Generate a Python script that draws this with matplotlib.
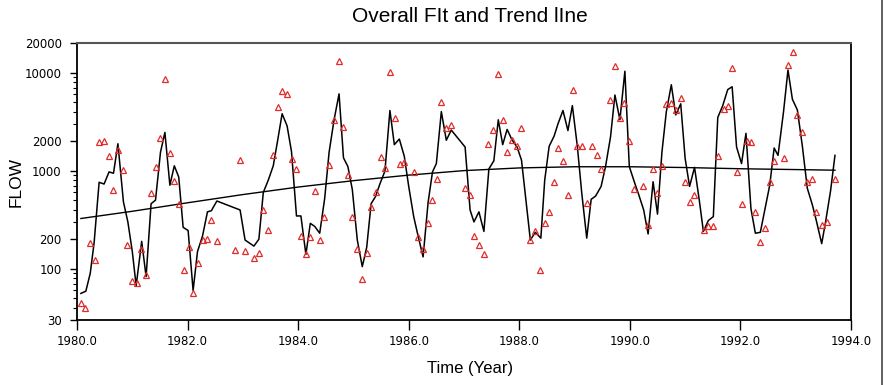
import matplotlib
matplotlib.use('Agg')
import matplotlib.pyplot as plt
from matplotlib.lines import Line2D
from matplotlib.ticker import FixedLocator, NullFormatter

# fitted model (time, flow)
fit_t = [1980.07, 1980.16, 1980.24, 1980.31, 1980.40, 1980.49, 1980.58, 1980.66, 1980.74, 1980.84,
         1980.92, 1981.00, 1981.07, 1981.17, 1981.25, 1981.34, 1981.42, 1981.51, 1981.59, 1981.68,
         1981.76, 1981.84, 1981.92, 1982.01, 1982.10, 1982.18, 1982.27, 1982.36, 1982.43, 1982.53,
         1982.95, 1983.04, 1983.20, 1983.29, 1983.37, 1983.46, 1983.55, 1983.63, 1983.71, 1983.80,
         1983.88, 1983.97, 1984.05, 1984.14, 1984.22, 1984.30, 1984.39, 1984.48, 1984.56, 1984.65,
         1984.74, 1984.82, 1984.90, 1984.98, 1985.07, 1985.16, 1985.24, 1985.32, 1985.40, 1985.48,
         1985.57, 1985.66, 1985.74, 1985.83, 1985.92, 1986.00, 1986.09, 1986.17, 1986.26, 1986.35,
         1986.43, 1986.50, 1986.59, 1986.68, 1986.77, 1987.02, 1987.11, 1987.18, 1987.27, 1987.36,
         1987.45, 1987.54, 1987.62, 1987.70, 1987.78, 1987.87, 1987.96, 1988.04, 1988.20, 1988.29,
         1988.39, 1988.46, 1988.54, 1988.63, 1988.70, 1988.79, 1988.88, 1988.96, 1989.05, 1989.13,
         1989.22, 1989.30, 1989.38, 1989.48, 1989.56, 1989.65, 1989.73, 1989.82, 1989.91, 1989.99,
         1990.08, 1990.16, 1990.25, 1990.33, 1990.42, 1990.50, 1990.58, 1990.66, 1990.75, 1990.83,
         1990.92, 1991.00, 1991.08, 1991.17, 1991.26, 1991.33, 1991.42, 1991.51, 1991.59, 1991.68,
         1991.77, 1991.85, 1991.93, 1992.02, 1992.10, 1992.19, 1992.27, 1992.36, 1992.44, 1992.53,
         1992.61, 1992.68, 1992.78, 1992.86, 1992.94, 1993.03, 1993.12, 1993.21, 1993.30, 1993.37,
         1993.47, 1993.54, 1993.63, 1993.71]
fit_v = [56, 59, 90, 185, 760, 730, 970, 940, 1880, 480,
         300, 150, 67, 190, 83, 460, 500, 1540, 2450, 710,
         1120, 860, 264, 245, 60, 150, 215, 380, 390, 490,
         397, 196, 170, 200, 600, 800, 1120, 2040, 3800, 2860,
         1560, 345, 345, 140, 290, 270, 230, 520, 1540, 3300,
         6060, 1350, 1100, 640, 196, 105, 165, 460, 545, 735,
         990, 4100, 1840, 2100, 1400, 690, 340, 215, 132, 470,
         970, 1180, 4000, 2040, 2590, 1740, 397, 300, 380, 240,
         1040, 1260, 3300, 1840, 2630, 2050, 1740, 1280, 196, 235,
         205, 800, 1770, 2250, 3000, 4100, 2560, 4600, 1770, 590,
         205, 510, 550, 690, 1100, 2200, 5900, 3300, 10300, 1100,
         770, 570, 397, 226, 770, 360, 1540, 4000, 7500, 3700,
         4800, 1330, 690, 1080, 480, 240, 310, 340, 3480, 4600,
         6700, 7160, 1740, 1180, 2400, 410, 230, 235, 397, 710,
         1700, 1430, 4000, 10600, 5340, 4150, 1780, 660, 450, 314,
         180, 300, 620, 1430]

# observed flows
obs_t = [1980.07, 1980.15, 1980.24, 1980.33, 1980.40, 1980.49, 1980.58, 1980.66, 1980.75, 1980.83,
         1980.91, 1981.00, 1981.08, 1981.16, 1981.25, 1981.34, 1981.42, 1981.51, 1981.59, 1981.68,
         1981.76, 1981.84, 1981.93, 1982.02, 1982.10, 1982.19, 1982.28, 1982.36, 1982.43, 1982.53,
         1982.86, 1982.95, 1983.04, 1983.20, 1983.29, 1983.37, 1983.46, 1983.54, 1983.63, 1983.71,
         1983.80, 1983.88, 1983.97, 1984.05, 1984.14, 1984.22, 1984.30, 1984.39, 1984.47, 1984.56,
         1984.65, 1984.73, 1984.82, 1984.91, 1984.98, 1985.07, 1985.16, 1985.24, 1985.32, 1985.41,
         1985.50, 1985.58, 1985.67, 1985.75, 1985.84, 1985.91, 1986.09, 1986.17, 1986.26, 1986.34,
         1986.42, 1986.51, 1986.59, 1986.68, 1986.77, 1987.02, 1987.11, 1987.18, 1987.27, 1987.36,
         1987.44, 1987.53, 1987.62, 1987.71, 1987.78, 1987.87, 1987.95, 1988.04, 1988.20, 1988.29,
         1988.38, 1988.46, 1988.54, 1988.62, 1988.70, 1988.79, 1988.88, 1988.97, 1989.05, 1989.13,
         1989.22, 1989.31, 1989.40, 1989.47, 1989.64, 1989.73, 1989.82, 1989.90, 1989.98, 1990.08,
         1990.24, 1990.33, 1990.41, 1990.49, 1990.58, 1990.66, 1990.75, 1990.83, 1990.92, 1990.99,
         1991.08, 1991.16, 1991.34, 1991.42, 1991.51, 1991.60, 1991.70, 1991.78, 1991.85, 1991.94,
         1992.02, 1992.11, 1992.19, 1992.27, 1992.36, 1992.44, 1992.53, 1992.61, 1992.78, 1992.86,
         1992.95, 1993.02, 1993.12, 1993.21, 1993.30, 1993.37, 1993.47, 1993.56, 1993.71]
obs_v = [45, 40, 183, 123, 1950, 2000, 1400, 640, 1620, 1015,
         175, 75, 72, 160, 86, 590, 1100, 2170, 8600, 1520,
         780, 460, 97, 165, 57, 115, 196, 200, 314, 190,
         155, 1280, 153, 130, 146, 400, 246, 1450, 4500, 6500,
         6000, 1300, 1030, 215, 140, 212, 620, 194, 340, 1150,
         3300, 13000, 2800, 900, 340, 160, 79, 145, 430, 610,
         1370, 1060, 10200, 3400, 1180, 1220, 960, 210, 160, 295,
         500, 815, 5040, 2740, 2900, 660, 565, 213, 175, 140,
         1880, 2590, 9650, 3300, 1540, 2050, 1790, 2740, 195, 240,
         97, 290, 380, 770, 1700, 1250, 565, 6640, 1800, 1800,
         470, 1800, 1430, 1030, 5250, 11700, 3400, 4900, 2020, 650,
         690, 280, 1030, 590, 1120, 4800, 4900, 4150, 5500, 760,
         480, 570, 248, 270, 270, 1400, 4260, 4600, 11200, 970,
         460, 2020, 1950, 380, 188, 260, 760, 1250, 1340, 12000,
         16200, 3700, 2460, 770, 830, 380, 280, 300, 815]

# long-term trend
trend_t = [1980.07, 1981.0, 1982.0, 1983.0, 1984.0, 1985.0, 1986.0, 1987.0,
           1988.0, 1989.0, 1990.0, 1991.0, 1992.0, 1993.0, 1993.71]
trend_v = [325, 385, 470, 570, 680, 790, 900, 1000,
           1065, 1095, 1095, 1075, 1045, 1025, 1010]

y_major = [30, 100, 200, 1000, 2000, 10000, 20000]
x_ticks = [1980, 1982, 1984, 1986, 1988, 1990, 1992, 1994]

fig = plt.figure(figsize=(8.85, 3.85), dpi=100)
ax = fig.add_axes([77/885, 65/385, 774/885, 277/385])

ax.plot(trend_t, trend_v, color='black', lw=1.0)
ax.plot(fit_t, fit_v, color='black', lw=1.1)
ax.plot(obs_t, obs_v, linestyle='none', marker='^', ms=4.5, mfc='none',
        mec='#e02b2b', mew=0.9)

ax.set_yscale('log')
ax.set_ylim(30, 20000)
ax.set_xlim(1980, 1994)

ax.yaxis.set_major_locator(FixedLocator(y_major))
minor = [m * 10 ** e for e in range(1, 5) for m in range(2, 10)]
minor = [v for v in minor if 30 < v < 20000 and v not in y_major]
ax.yaxis.set_minor_locator(FixedLocator(minor))
ax.yaxis.set_minor_formatter(NullFormatter())
ax.set_yticklabels([str(v) for v in y_major])

ax.set_xticks(x_ticks)
ax.set_xticklabels(['%.1f' % v for v in x_ticks])

ax.tick_params(axis='both', which='major', direction='out', labelsize=8.5, width=1)
ax.tick_params(axis='y', which='major', length=5, pad=6)
ax.tick_params(axis='y', which='minor', length=3, width=0.8)
ax.tick_params(axis='x', which='major', length=7, pad=4)

for side in ['left', 'bottom', 'right']:
    ax.spines[side].set_linewidth(1.3)
    ax.spines[side].set_color('black')
ax.spines['top'].set_linewidth(1.5)
ax.spines['top'].set_color('#555555')

fig.text(470/885, 1 - 17/385, 'Overall FIt and Trend lIne', ha='center', va='center',
         fontsize=15, family='Liberation Sans')
fig.text(470/885, 1 - 369/385, 'Time (Year)', ha='center', va='center',
         fontsize=12, family='Liberation Sans')
fig.text(16/885, 1 - 182/385, 'FLOW', ha='center', va='center', rotation=90,
         fontsize=12.5, family='Liberation Sans')

# frame edge on the right of the image
fig.add_artist(Line2D([882/885, 882/885], [0, 1], color='#444444', lw=1.2,
                      transform=fig.transFigure))

fig.savefig('out.png', dpi=100)
plt.close()
